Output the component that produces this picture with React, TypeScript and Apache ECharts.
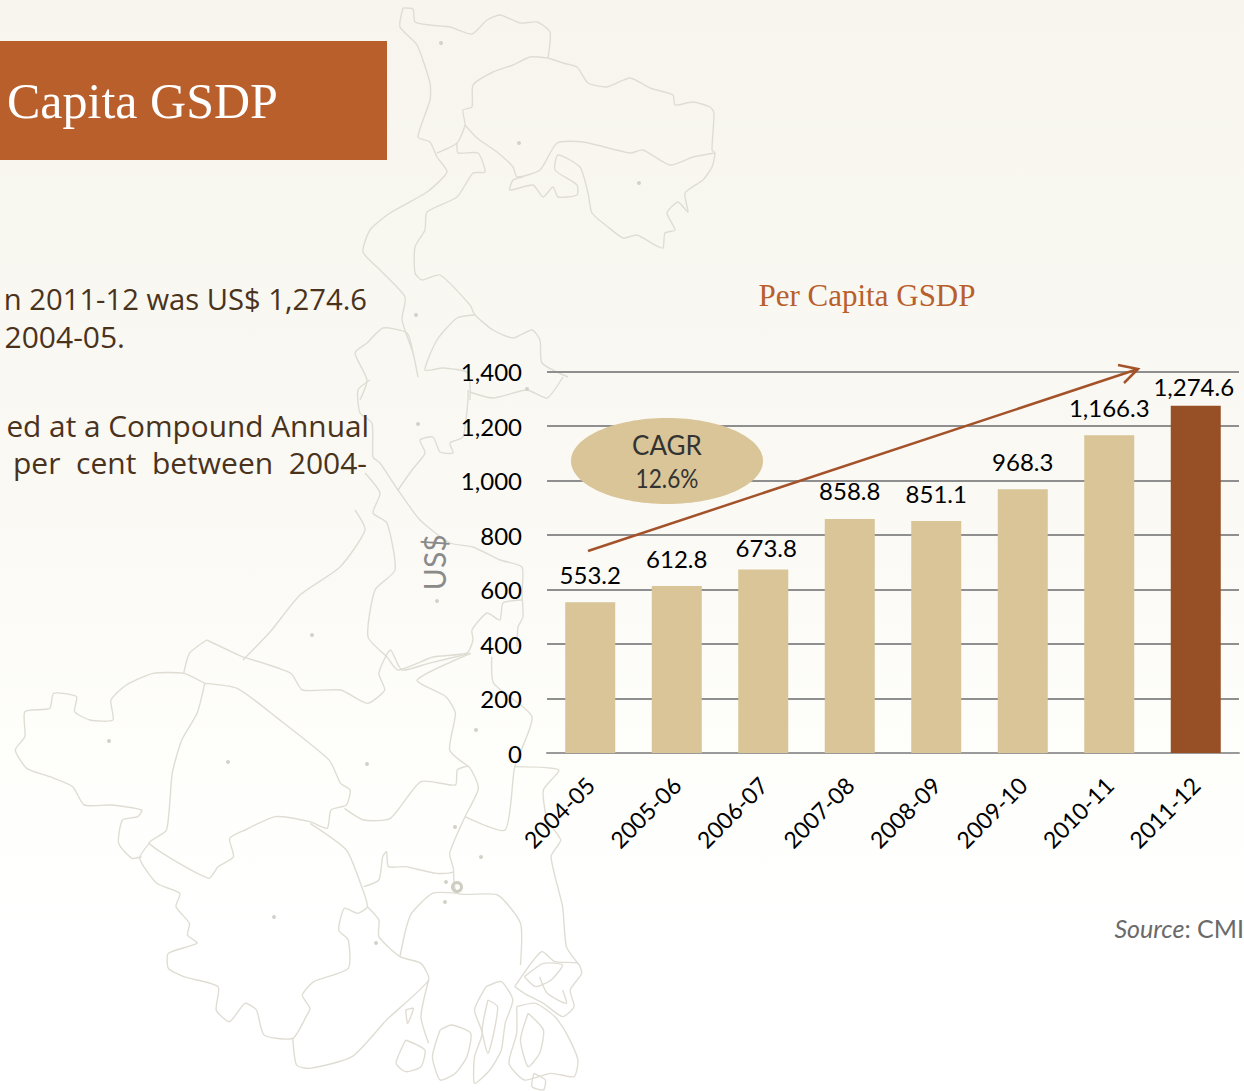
import React, { useEffect, useRef } from "react";
import * as echarts from "echarts";

const categories = ["2004-05", "2005-06", "2006-07", "2007-08", "2008-09", "2009-10", "2010-11", "2011-12"];
const perCapitaGsdp = [553.2, 612.8, 673.8, 858.8, 851.1, 968.3, 1166.3, 1274.6];
const highlightColor = "#974f26";
const barColor = "#d9c597";

// Decorative background map (page pixels)
const upperMap: number[][][] = [
  [[403,8],[413,9],[415,22],[430,25],[450,27],[472,34],[487,20],[500,15],[520,23],[537,22],[550,32],[548,58]],
  [[403,8],[400,27],[417,45],[430,83],[430,100],[418,137],[430,142],[437,157],[447,172],[427,192],[390,213],[370,230],[363,252],[380,270],[405,297],[402,320],[413,353],[418,377]],
  [[548,58],[530,57],[513,65],[493,72],[473,85],[472,107],[463,110],[465,125],[457,143],[437,153]],
  [[548,58],[563,63],[577,67],[588,83],[607,87],[630,78],[650,88],[673,95],[675,105],[693,102],[710,107],[714,113],[712,150],[715,153],[712,167],[703,180],[685,193],[688,212],[678,202],[667,213],[675,230],[665,233],[663,248],[655,245],[637,235],[623,238],[608,227],[592,213],[588,193],[580,167],[558,155],[555,170],[577,185],[577,195],[558,197],[553,187],[543,197],[533,185],[510,190],[513,180],[523,177]],
  [[465,125],[477,138],[497,152],[513,167],[517,177],[540,170],[557,143],[583,142],[630,153],[643,150],[670,165],[693,157],[715,153]],
  [[457,143],[458,153],[478,153],[485,172],[473,173],[457,197],[427,212],[425,230],[415,247],[415,273],[422,280],[440,275],[470,305],[475,315],[493,330],[513,338],[532,330],[540,340],[542,363],[568,377]],
  [[475,315],[457,318],[437,340],[425,370],[443,368],[468,373],[470,400]],
  [[470,392],[493,398],[527,390],[547,398],[563,377]],
  [[413,353],[407,333],[383,328],[367,343],[355,353],[367,380],[360,400]],
  [[370,380],[358,390],[360,413],[372,423],[373,457],[380,463],[398,490],[420,520],[450,543],[473,547],[500,560],[522,567],[522,593],[523,617],[518,627],[517,647]],
  [[365,473],[380,493],[373,513],[387,523],[395,570],[375,590],[368,637],[387,657],[398,670],[433,657],[467,653],[473,640],[472,630],[487,613],[500,620],[503,603],[522,600]],
  [[398,490],[412,470],[425,453],[420,440],[433,437],[440,452],[453,453],[450,443],[463,437],[468,400],[468,390]],
  [[355,510],[365,530],[340,567],[300,595],[270,632],[243,660]],
];
const lowerMapCrop: number[][][] = [
  [[535,130],[480,100],[400,100],[330,135],[290,180],[295,240],[235,240],[195,215],[200,170],[140,160],[130,205],[65,215],[65,290],[40,330],[70,385],[130,410],[190,440],[220,495],[290,495],[370,510],[360,530],[320,540],[310,610],[345,655],[370,650]],
  [[480,100],[495,40],[540,0]],
  [[632,50],[760,100],[790,150],[890,150],[960,190],[1005,150],[990,100],[1020,30],[1050,90],[1120,70],[1230,40]],
  [[540,0],[632,50]],
  [[535,130],[620,145],[720,230],[860,360],[890,430],[915,450],[905,495],[865,510],[855,565],[810,545],[720,530],[640,570],[600,595],[610,650],[570,680],[545,715],[390,610],[435,570],[450,400],[475,300],[515,220],[535,130]],
  [[390,610],[365,655],[410,730],[470,760],[460,800],[495,850],[490,885],[515,910],[440,940],[440,985],[480,1010],[570,1040],[565,1110],[600,1145],[640,1090],[670,1110],[690,1185],[765,1195],[800,1130],[810,1105],[790,1065],[820,1025],[910,985],[910,900],[885,870],[900,805],[935,820],[960,800],[945,740],[905,630],[810,550]],
  [[765,1195],[775,1275],[810,1285],[920,1250],[1010,1140],[1120,1020],[1100,970],[1045,950],[990,890],[990,840],[960,800]],
  [[900,505],[950,540],[1020,535],[1100,425],[1190,435],[1195,390],[1225,380],[1250,445],[1215,530],[1175,640],[1185,695],[1140,700],[1060,680],[1015,680],[1010,635],[1000,650],[990,720],[950,740]],
  [[1230,40],[1090,120],[1165,170],[1190,220],[1175,330],[1225,380]],
  [[1215,530],[1320,570],[1345,380],[1390,230],[1290,130],[1285,50]],
  [[1345,380],[1460,390],[1420,450],[1430,540],[1465,600],[1440,650],[1470,800],[1480,920],[1510,970]],
  [[1185,695],[1195,760],[1300,765],[1360,850],[1360,975]],
  [[1195,760],[1130,760],[1075,820],[1060,870],[1045,950]],
  [[1120,1020],[1100,1130],[1120,1210]],
  [[1345,1040],[1415,935],[1450,965],[1510,970],[1520,1000],[1490,1050],[1500,1100],[1470,1130],[1420,1090],[1370,1060],[1345,1040]],
  [[1270,1040],[1310,1025],[1340,1080],[1320,1150],[1310,1230],[1280,1290],[1240,1330],[1240,1250],[1260,1180],[1240,1110],[1270,1040]],
  [[1350,1100],[1400,1090],[1450,1130],[1480,1180],[1510,1260],[1500,1310],[1440,1300],[1370,1320],[1330,1270],[1350,1180],[1350,1100]],
  [[1150,1170],[1180,1155],[1230,1180],[1220,1250],[1190,1300],[1150,1320],[1130,1250],[1150,1170]],
  [[1060,1200],[1110,1230],[1100,1280],[1060,1295],[1035,1270],[1060,1200]],
  [[1380,1120],[1420,1170],[1410,1240],[1380,1280],[1360,1200],[1380,1120]],
  [[1370,1010],[1420,970],[1470,975],[1440,1020],[1400,1040],[1370,1010]],
  [[1275,1080],[1300,1100],[1290,1180],[1275,1240],[1260,1170],[1275,1080]],
  [[1060,1110],[1080,1105],[1065,1150],[1060,1110]],
  [[1410,1010],[1430,1060],[1480,1090],[1470,1050]],
  [[1395,1300],[1425,1320],[1420,1350],[1390,1340],[1395,1300]],
];
const mapDots: number[][] = [[441,43],[519,143],[639,183],[416,315],[527,389],[418,424],[437,601],[312,635],[109,741],[228,762],[367,764],[476,730],[455,827],[481,857],[446,882],[445,902],[274,917],[376,943]];

export default function App() {
  const ref = useRef<HTMLDivElement>(null);
  useEffect(() => {
    document.body.style.margin = "0";
    const chart = echarts.init(ref.current!, undefined, { renderer: "svg" });
    const body = '"Lato", sans-serif';
    const allLines = [
      ...upperMap,
      ...lowerMapCrop.map((line) => line.map(([x, y]) => [x / 2.613, 640 + y / 3])),
    ];
    const mapGraphics: any[] = allLines.map((points) => ({
      type: "polyline", silent: true, z: 0,
      shape: { points, smooth: 0.2 },
      style: { stroke: "#dfddd3", lineWidth: 1.4, fill: "none" },
    }));
    const dotGraphics: any[] = mapDots.map(([cx, cy]) => ({
      type: "circle", silent: true, z: 0, shape: { cx, cy, r: 2 }, style: { fill: "#d4d2c8" },
    }));
    const bodyText = (text: string, right: number, y: number, size = 30) => ({
      type: "text", x: right, y, z: 2,
      style: { text, fill: "#4a331c", font: `${size}px "Open Sans", sans-serif`, textAlign: "right", textVerticalAlign: "middle" },
    });
    const labelTweaks: Record<number, any> = {
      2: { distance: 10, offset: [3, 0] },
      7: { distance: 7, offset: [-2, 0] },
    };
    chart.setOption({
      animation: false,
      backgroundColor: "transparent",
      title: {
        text: "Per Capita GSDP", left: 862, top: 275, textAlign: "center",
        textStyle: { fontFamily: '"Liberation Serif", serif', fontSize: 31, fontWeight: "normal", color: "#b85f2c" },
      },
      grid: { left: 547, right: 5, top: 371.5, height: 381.5, containLabel: false },
      xAxis: {
        type: "category", data: categories,
        axisTick: { show: false },
        axisLine: { lineStyle: { color: "#9a9a9a", width: 2 } },
        axisLabel: { rotate: 45, interval: 0, color: "#000", fontFamily: body, fontSize: 23, margin: 28 },
      },
      yAxis: {
        type: "value", min: 0, max: 1400, interval: 200,
        name: "US$", nameLocation: "middle", nameGap: 98, nameRotate: 90,
        nameTextStyle: { color: "#8a8a8a", fontFamily: body, fontSize: 30 },
        axisLine: { show: false }, axisTick: { show: false },
        axisLabel: {
          color: "#000", fontFamily: body, fontSize: 24, margin: 25, padding: [0, 0, 4, 0],
          formatter: (v: number) => v.toLocaleString("en-US"),
        },
        splitLine: { lineStyle: { color: "#8f8f8f", width: 2 } },
      },
      series: [{
        type: "bar", barWidth: 50, z: 3,
        data: perCapitaGsdp.map((value, i) => ({
          value,
          itemStyle: { color: i === perCapitaGsdp.length - 1 ? highlightColor : barColor },
          label: labelTweaks[i],
        })),
        label: {
          show: true, position: "top", distance: 16, color: "#000", fontFamily: body, fontSize: 24,
          formatter: (p: any) => Number(p.value).toLocaleString("en-US", { minimumFractionDigits: 1 }),
        },
      }],
      graphic: [
        ...mapGraphics,
        ...dotGraphics,
        { type: "ring", silent: true, z: 0, shape: { cx: 457, cy: 887, r: 6, r0: 3 }, style: { fill: "#cfcdc2" } },
        { type: "rect", z: 2, shape: { x: 0, y: 41, width: 387, height: 119 }, style: { fill: "#b85f2c" } },
        { type: "text", x: 7, y: 101, z: 3, style: { text: "Capita GSDP", fill: "#fff", font: '50px "Liberation Serif", serif', textVerticalAlign: "middle" } },
        bodyText("n 2011-12 was US$ 1,274.6", 367, 299, 29.2),
        bodyText("2004-05.", 125, 336),
        bodyText("ed at a Compound Annual", 369, 425, 29.8),
        bodyText("per  cent  between  2004-", 367, 462),
        { type: "ellipse", z: 10, shape: { cx: 667, cy: 461, rx: 96, ry: 43 }, style: { fill: barColor } },
        { type: "text", x: 667, y: 445, z: 11, style: { text: "CAGR", fill: "#333", font: '26px "Lato", sans-serif', textAlign: "center", textVerticalAlign: "middle" } },
        { type: "text", x: 667, y: 477, z: 11, scaleX: 0.84, style: { text: "12.6%", fill: "#333", font: '27px "Lato", sans-serif', textAlign: "center", textVerticalAlign: "middle" } },
        { type: "line", z: 12, shape: { x1: 588, y1: 551, x2: 1138, y2: 369 }, style: { stroke: "#a4522a", lineWidth: 2.5 } },
        { type: "polyline", z: 12, shape: { points: [[1118, 365], [1138, 369], [1124, 383]] }, style: { stroke: "#a4522a", lineWidth: 2.5, fill: "none" } },
        {
          type: "text", x: 1244, y: 928, z: 3,
          style: {
            text: "{i|Source}{n|: CMI}", textAlign: "right", textVerticalAlign: "middle",
            rich: {
              i: { fontFamily: body, fontStyle: "italic", fontSize: 25, fill: "#6a6a6a" },
              n: { fontFamily: body, fontSize: 25, fill: "#6a6a6a" },
            },
          },
        },
      ],
    });
    return () => chart.dispose();
  }, []);
  return (
    <div style={{ width: 1244, height: 1091, background: "linear-gradient(#f7f5ed 0%, #faf9f4 45%, #fefefb 70%, #ffffff 85%)", overflow: "hidden" }}>
      <div ref={ref} style={{ width: 1244, height: 1091 }} />
    </div>
  );
}
